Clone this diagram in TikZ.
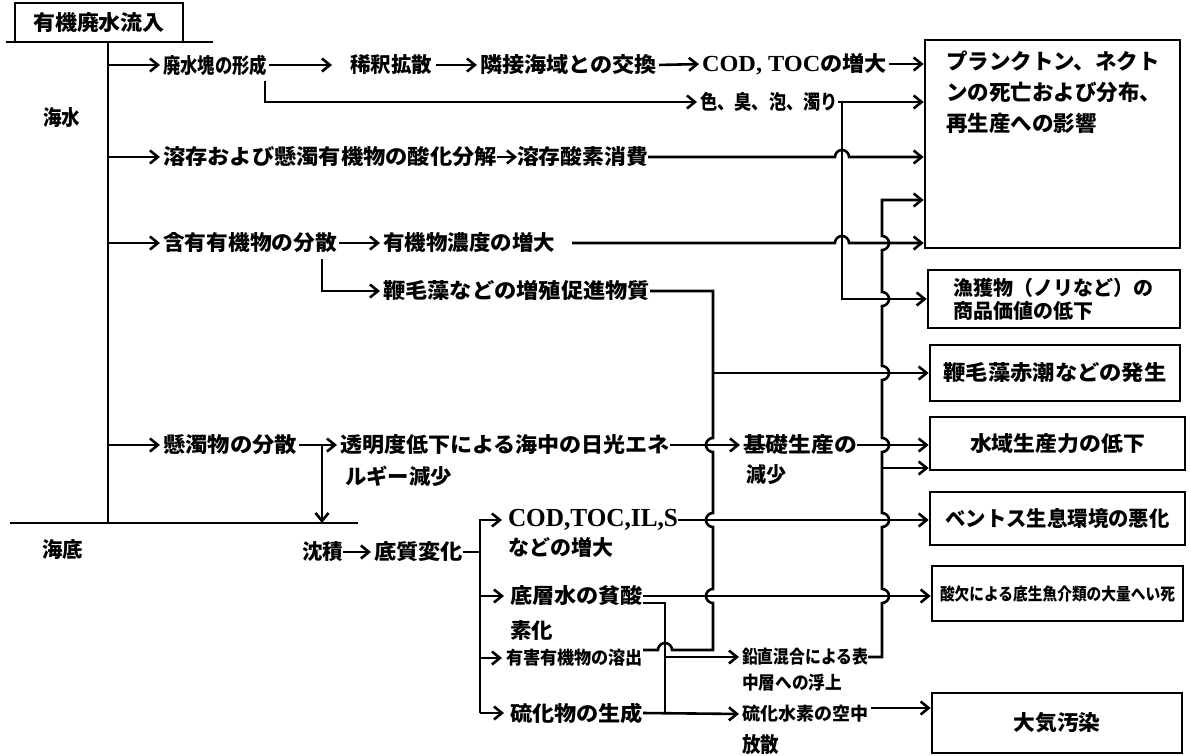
\documentclass[tikz,border=0pt]{standalone}
\usepackage{fontspec}
\usepackage{graphicx}
\setmainfont{Noto Sans CJK JP}
\newfontfamily\lat{Liberation Serif}
\usetikzlibrary{arrows.meta,calc}
\newcommand\fw[2]{\resizebox{#1pt}{\height}{#2}}
\begin{document}
\begin{tikzpicture}[x=1pt,y=-1pt,
  every node/.append style={font=\bfseries},
  ln/.style={line width=2.6pt, line join=miter},
  arr/.style={ln, -{Straight Barb[length=8pt,width=13pt]}},
  arrt/.style={arr, shorten >=3pt},
  lbl/.style={inner sep=0pt, outer sep=0pt, anchor=west, font=\fontsize{21}{24}\selectfont\bfseries},
  sml/.style={lbl, font=\fontsize{18}{20}\selectfont\bfseries},
  bx/.style={draw, line width=2.6pt, inner sep=0pt, font=\fontsize{21}{24}\selectfont\bfseries}]
\useasboundingbox (0,0) rectangle (1191,755);

% ---------- boxes ----------
\node[bx, minimum width=168pt, minimum height=39pt] (inflow) at (99,22.5) {\fw{132}{有機廃水流入}};
\node[bx, minimum width=255pt, minimum height=208pt] (B1) at (1052.5,144) {};
\node[anchor=north west, align=left, inner sep=0pt, font=\fontsize{21.5}{31}\selectfont\bfseries] (b1t) at (946,51)
  {プランクトン、ネクト\\ンの死亡および分布、\\再生産への影響};
\node[bx, minimum width=252pt, minimum height=58pt, text width=202pt, inner xsep=25pt, align=left,
  font=\fontsize{20}{23}\selectfont\bfseries] (B2) at (1054,299) {漁獲物（ノリなど）の\\商品価値の低下};
\node[bx, minimum width=250pt, minimum height=56pt] (B3) at (1055,373) {\fw{223}{鞭毛藻赤潮などの発生}};
\node[bx, minimum width=255pt, minimum height=53pt] (B4) at (1057.5,443.5) {\fw{175}{水域生産力の低下}};
\node[bx, minimum width=255pt, minimum height=53pt] (B5) at (1057.5,518.5) {\fw{224}{ベントス生息環境の悪化}};
\node[bx, minimum width=251pt, minimum height=55pt, font=\fontsize{17}{20}\selectfont\bfseries] (B6) at (1057.5,593.5) {\fw{235}{酸欠による底生魚介類の大量へい死}};
\node[bx, minimum width=250pt, minimum height=60pt] (B7) at (1057,723) {\fw{87}{大気汚染}};

% ---------- labels ----------
\node[lbl] (kaisui) at (43,118) {\fw{37}{海水}};
\node[lbl] (kaitei) at (42,550) {\fw{41}{海底}};
\node[lbl] (n1) at (163,65) {\fw{104}{廃水塊の形成}};
\node[lbl] (n2) at (350,65) {\fw{82}{稀釈拡散}};
\node[lbl] (n3) at (480,65) {\fw{177}{隣接海域との交換}};
\node[lbl] (n4) at (702,64) {\fw{185}{{\lat\fontsize{23}{24}\selectfont\bfseries COD, TOC}の増大}};
\node[lbl, font=\fontsize{20}{22}\selectfont\bfseries] (n5) at (700,102) {\fw{138}{色、臭、泡、濁り}};
\node[lbl] (n6) at (163,157) {\fw{334}{溶存および懸濁有機物の酸化分解}};
\node[lbl] (n7) at (517,157) {\fw{131}{溶存酸素消費}};
\node[lbl] (n8) at (163,243) {\fw{174}{含有有機物の分散}};
\node[lbl] (n9) at (383,243) {\fw{172}{有機物濃度の増大}};
\node[lbl] (n10) at (383,291) {\fw{267}{鞭毛藻などの増殖促進物質}};
\node[lbl] (n11) at (163,445) {\fw{134}{懸濁物の分散}};
\node[lbl] (n12) at (340,445) {\fw{330}{透明度低下による海中の日光エネ}};
\node[lbl] (n12b) at (345,476) {\fw{107}{ルギー減少}};
\node[lbl] (n13) at (302,552) {\fw{41}{沈積}};
\node[lbl] (n14) at (374,552) {\fw{89}{底質変化}};
\node[lbl] (n15) at (508,520) {\fw{170}{\lat\fontsize{26}{28}\selectfont\bfseries COD,TOC,IL,S}};
\node[lbl] (n15b) at (508,547) {\fw{105}{などの増大}};
\node[lbl] (n16) at (510,596) {\fw{133}{底層水の貧酸}};
\node[lbl] (n16b) at (510,630) {\fw{43}{素化}};
\node[sml] (n17) at (506,658) {\fw{137}{有害有機物の溶出}};
\node[lbl] (n18) at (510,713) {\fw{133}{硫化物の生成}};
\node[lbl] (n19) at (743,445) {\fw{114}{基礎生産の}};
\node[lbl] (n19b) at (746,475) {\fw{40}{減少}};
\node[sml] (n20) at (742,657) {\fw{126}{鉛直混合による表}};
\node[sml] (n20b) at (742,683) {\fw{100}{中層への浮上}};
\node[sml] (n21) at (742,714) {\fw{126}{硫化水素の空中}};
\node[lbl] (n21b) at (742,745) {\fw{37}{放散}};

% ---------- bus coordinates ----------
\coordinate (tl) at (6,42);   \coordinate (tr) at (213,42);
\coordinate (m0) at (108,42); \coordinate (m1) at (108,523);
\coordinate (sl) at (10,523); \coordinate (sr) at (358,523);
\coordinate (vA) at (842,0);  \coordinate (vB) at (882,0);
\coordinate (vC) at (713,0);  \coordinate (vD) at (665,0);
\coordinate (vE) at (480,0);
\coordinate (vBt) at (882,200);
\coordinate (b4b) at (882,468);
\coordinate (yu) at ([yshift=8pt]n17.east);
\coordinate (hd) at ([yshift=-7pt]n16.east);
\coordinate (dd) at ($(n11.east)+(25,0)$);
\coordinate (k1) at ($(n1.south east)+(-2,6)$);
\coordinate (k2) at ($(n8.south east)+(-15,6)$);

% ---------- main lines ----------
\draw[ln] (tl) -- (tr);
\draw[ln] (m0) -- (m1);
\draw[ln] (sl) -- (sr);
\draw[arrt] (m0 |- n1.west) -- (n1.west);
\draw[arrt] (m0 |- n6.west) -- (n6.west);
\draw[arrt] (m0 |- n8.west) -- (n8.west);
\draw[arrt] (m0 |- n11.west) -- (n11.west);

% row 1
\draw[arr, shorten <=2pt] (n1.east) -- ([xshift=-18pt]n2.west);
\draw[arrt, shorten <=4pt] (n2.east) -- (n3.west);
\draw[arrt, shorten <=2pt] (n3.east) -- (n4.west);
\draw[arr, shorten <=2pt] (n4.east) -- (n4.east -| B1.west);
\draw[arrt] (k1) |- (n5.west);
\draw[ln] (n5.east) -- (vA |- n5.east);
\draw[arr] (n5.east) -- (n5.east -| B1.west);
\draw[arr] (vA |- n5.east) |- (B2.west);

% row 2
\draw[arr] (n6.east) -- (n7.west);
\draw[arr] (n7.east) -- ($(vA |- n7.east)+(-7,0)$) arc[start angle=180,end angle=360,radius=7]
  -- (n7.east -| B1.west);

% row 3
\draw[arrt, shorten <=2pt] (n8.east) -- (n9.west);
\draw[arr] ([xshift=17pt]n9.east) -- ($(vA |- n9.east)+(-7,0)$) arc[start angle=180,end angle=360,radius=7]
  -- (n9.east -| B1.west);
\draw[arrt] (k2) |- (n10.west);

% vC bus
\draw[ln] (n10.east) -- (vC |- n10.east)
  -- ($(vC |- n12.east)+(0,-7)$) arc[start angle=270,end angle=90,radius=7]
  -- ($(vC |- n15.east)+(0,-7)$) arc[start angle=270,end angle=90,radius=7]
  -- ($(vC |- n16.east)+(0,-7)$) arc[start angle=270,end angle=90,radius=7]
  -- (vC |- yu) -- ($(vD |- yu)+(7,0)$) arc[start angle=0,end angle=-180,radius=7] -- (yu);
\draw[arr] (vC |- B3.west) -- (B3.west);

% suspended matter
\draw[arrt, shorten <=2pt] (n11.east) -- (n12.west);
\draw[arr] (dd) -- (dd |- sr);
\draw[arrt] (n12.east) -- (n19.west);
\draw[arr] (n19.east) -- (n19.east -| B4.west);

% vB bus
\draw[arr] (n20.east) -- (vB |- n20.east)
  -- ($(vB |- n16.east)+(0,7)$) arc[start angle=90,end angle=-90,radius=7]
  -- ($(vB |- n15.east)+(0,7)$) arc[start angle=90,end angle=-90,radius=7]
  -- ($(vB |- n19.east)+(0,7)$) arc[start angle=90,end angle=-90,radius=7]
  -- ($(vB |- B3.west)+(0,7)$) arc[start angle=90,end angle=-90,radius=7]
  -- ($(vB |- B2.west)+(0,7)$) arc[start angle=90,end angle=-90,radius=7]
  -- ($(vB |- n9.east)+(0,7)$) arc[start angle=90,end angle=-90,radius=7]
  -- (vBt) -- (B1.west |- vBt);
\draw[arr] (b4b) -- (B4.west |- b4b);

% sediment
\draw[arrt] (n13.east) -- (n14.west);
\draw[ln] (n14.east) -- (vE |- n14.east);
\draw[arr, shorten >=6pt] (vE |- n18.west) -- (vE |- n15.west) -- (n15.west);
\draw[arr, shorten >=6pt] (vE |- n18.west) -- (n18.west);
\draw[arr, shorten >=6pt] (vE |- n16.west) -- (n16.west);
\draw[arr, shorten >=4pt] (vE |- n17.west) -- (n17.west);
\draw[arr] (n15.east) -- (n15.east -| B5.west);
\draw[arr] (n16.east) -- (n16.east -| B6.west);

% vD bus
\draw[ln] (hd) -- (vD |- hd) -- (vD |- n18.east) -- (n18.east);
\draw[arrt] (vD |- n20.west) -- (n20.west);
\draw[arrt] (n18.east) -- (n21.west);
\draw[arr, shorten <=3pt] ([yshift=6pt]n21.east) -- ([yshift=6pt]n21.east -| B7.west);
\end{tikzpicture}
\end{document}
